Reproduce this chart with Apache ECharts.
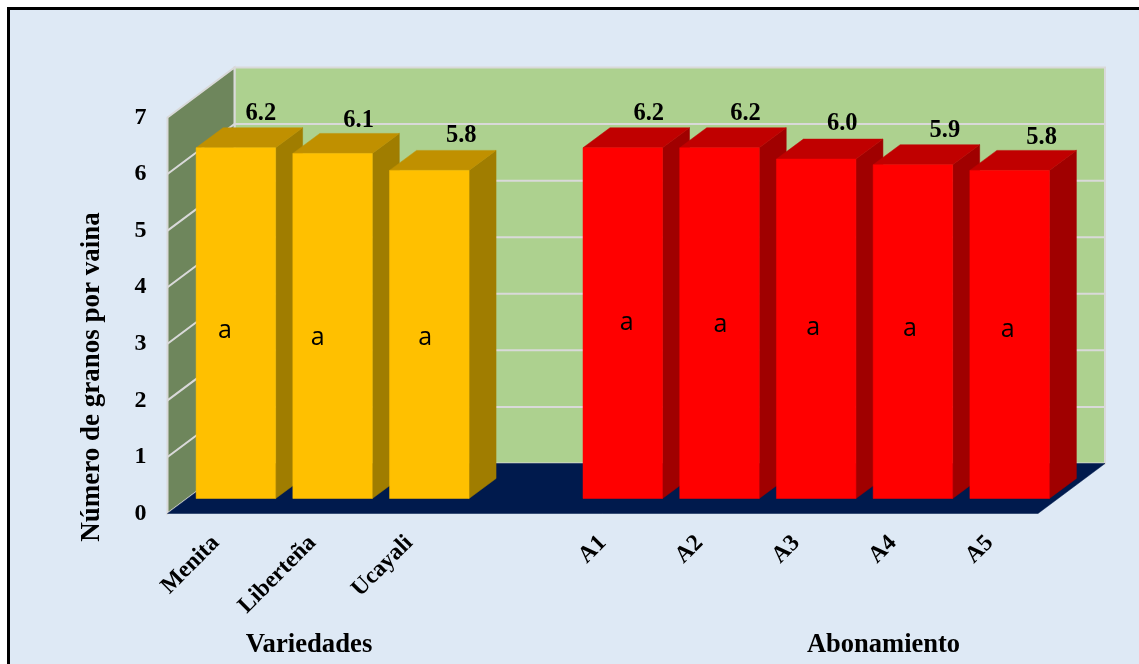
<!DOCTYPE html>
<html>
<head>
<meta charset="utf-8">
<style>html,body{margin:0;padding:0;background:#fff;overflow:hidden}#c{width:1139px;height:664px}</style>
<script src="https://cdn.jsdelivr.net/npm/echarts@6/dist/echarts.min.js"></script>
</head>
<body>
<div id="c"></div>
<script>
const categories = ['Menita', 'Liberteña', 'Ucayali', '', 'A1', 'A2', 'A3', 'A4', 'A5'];
const values = [6.2, 6.1, 5.8, null, 6.2, 6.2, 6.0, 5.9, 5.8];
const letters = ['a', 'a', 'a', '', 'a', 'a', 'a', 'a', 'a'];
const yTicks = [0, 1, 2, 3, 4, 5, 6, 7];

const serif = '"Liberation Serif","Times New Roman",serif';
const wall = { dx: 67, dy: -50 };
const barFront = { dx: 20, dy: -15 };
const barDepth = { dx: 27, dy: -20 };
const barWidth = 79.5;
const valueNudge = [[25, 2], [26, 3], [32, 1], null, [26, 2], [26, 2], [26, 1], [32, 2], [32, 3]];
const letterNudge = [[-11, 8], [-15, 12], [-4, 3], null, [4, 0], [1, 2], [-3, -1], [-3, -3], [-2, -5]];
const yellow = { front: '#FFC000', top: '#C09000', side: '#A07D00' };
const red = { front: '#FF0000', top: '#C00000', side: '#A00000' };

function poly(points, fill, stroke) {
  return { type: 'polygon', shape: { points }, style: { fill, stroke: stroke || fill, lineWidth: stroke ? 2 : 0.5 } };
}

function renderWalls(params, api) {
  const cs = params.coordSys;
  const x0 = cs.x, x1 = cs.x + cs.width;
  const yOf = v => api.coord([0, v])[1];
  const b = yOf(0), t = yOf(7);
  const d = wall;
  const children = [
    poly([[x0 + d.dx, t + d.dy], [x1 + d.dx, t + d.dy], [x1 + d.dx, b + d.dy], [x0 + d.dx, b + d.dy]], '#ADD18F', '#D9D9D9'),
    poly([[x0, t], [x0 + d.dx, t + d.dy], [x0 + d.dx, b + d.dy], [x0, b]], '#6E865C', '#D9D9D9')
  ];
  yTicks.slice(1, -1).forEach(v => {
    const y = yOf(v);
    children.push({ type: 'polyline', shape: { points: [[x0, y], [x0 + d.dx, y + d.dy], [x1 + d.dx, y + d.dy]] },
      style: { fill: null, stroke: '#D9D9D9', lineWidth: 2 } });
  });
  children.push(poly([[x0, b], [x1, b], [x1 + d.dx, b + d.dy], [x0 + d.dx, b + d.dy]], '#001A4D'));
  return { type: 'group', children };
}

function renderBar(params, api) {
  const i = api.value(0), v = api.value(1);
  const bottom = api.coord([i, 0]), top = api.coord([i, v]);
  const c = i < 3 ? yellow : red;
  const L = bottom[0] + barFront.dx - barWidth / 2, R = L + barWidth;
  const yb = bottom[1] + barFront.dy, yt = top[1] + barFront.dy;
  const ox = barDepth.dx, oy = barDepth.dy;
  const vn = valueNudge[i], ln = letterNudge[i];
  return { type: 'group', children: [
    poly([[R, yt], [R + ox, yt + oy], [R + ox, yb + oy], [R, yb]], c.side),
    poly([[L, yt], [L + ox, yt + oy], [R + ox, yt + oy], [R, yt]], c.top),
    poly([[L, yt], [R, yt], [R, yb], [L, yb]], c.front),
    { type: 'text', z2: 10, style: { x: (L + R) / 2 + vn[0], y: yt + oy - 16 + vn[1], text: v.toFixed(1), fill: '#000',
        font: 'bold 24.5px ' + serif, align: 'center', verticalAlign: 'middle' } },
    { type: 'text', z2: 10, style: { x: (L + R) / 2 + ln[0], y: (yt + yb) / 2 + ln[1], text: letters[i], fill: '#000',
        font: '25px "Open Sans",sans-serif', align: 'center', verticalAlign: 'middle' } }
  ] };
}

const chart = echarts.init(document.getElementById('c'), null, { renderer: 'canvas' });
chart.setOption({
  animation: false,
  backgroundColor: '#fff',
  grid: { left: 167.5, right: 101, top: 117.5, bottom: 150.5, containLabel: false },
  xAxis: {
    type: 'category', data: categories, boundaryGap: true,
    axisLine: { show: false }, axisTick: { show: false },
    axisLabel: { interval: 0, rotate: 45, margin: 26, color: '#000', fontFamily: serif, fontWeight: 'bold', fontSize: 23.5 }
  },
  yAxis: {
    type: 'value', min: 0, max: 7, interval: 1,
    axisLine: { show: false }, axisTick: { show: false }, splitLine: { show: false },
    axisLabel: { margin: 21, color: '#000', fontFamily: serif, fontWeight: 'bold', fontSize: 24, padding: [9, 0, 0, 0] }
  },
  graphic: [
    { type: 'rect', z: -10, silent: true, shape: { x: 8.5, y: 8.5, width: 1300, height: 800 },
      style: { fill: '#DEE9F5', stroke: '#000', lineWidth: 3 } },
    { type: 'text', z: 10, x: 92, y: 377, rotation: Math.PI / 2, style: { text: 'Número de granos por vaina', fill: '#000',
        font: 'bold 27px ' + serif, align: 'center', verticalAlign: 'middle' } },
    { type: 'text', z: 10, x: 309, y: 645, style: { text: 'Variedades', fill: '#000',
        font: 'bold 26.7px ' + serif, align: 'center', verticalAlign: 'middle' } },
    { type: 'text', z: 10, x: 883.5, y: 645, style: { text: 'Abonamiento', fill: '#000',
        font: 'bold 26.5px ' + serif, align: 'center', verticalAlign: 'middle' } }
  ],
  series: [
    { type: 'custom', name: 'walls', silent: true, z: 1, clip: false, renderItem: renderWalls, data: [[0, 0]], encode: { x: 0, y: 1 } },
    { type: 'custom', name: 'bars', silent: true, z: 2, clip: false, renderItem: renderBar,
      data: categories.map((c, i) => [i, values[i]]).filter(d => d[1] !== null), encode: { x: 0, y: 1 } }
  ]
});
</script>
</body>
</html>
